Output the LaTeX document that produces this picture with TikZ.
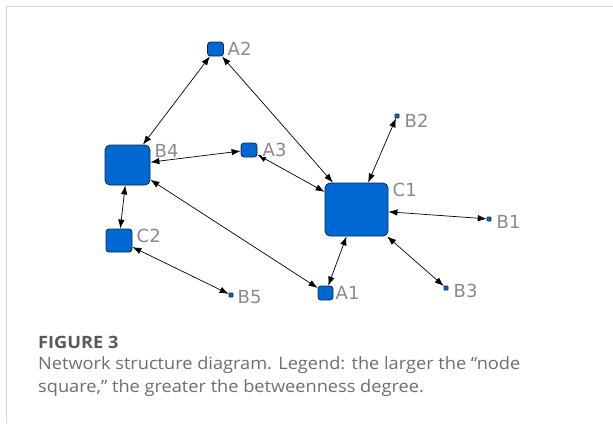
\documentclass[tikz,border=0pt]{standalone}
\usepackage{fontspec}
\setmainfont{Open Sans}[FakeStretch=1.07]
\newfontfamily\netfont{DejaVu Sans}
\usepackage{xcolor}
\usetikzlibrary{arrows.meta}
\definecolor{actorblue}{RGB}{0,104,210}
\definecolor{actoredge}{RGB}{16,36,76}
\definecolor{namegray}{RGB}{138,138,138}
\definecolor{figgray}{RGB}{88,89,91}
\definecolor{capgray}{RGB}{110,110,113}
\definecolor{framegray}{RGB}{212,212,212}
\tikzset{
  actor/.style={draw=actoredge, fill=actorblue, line width=0.8pt, rounded corners=3pt, inner sep=0pt},
  dot actor/.style={actor, rounded corners=0.5pt, minimum size=4pt, line width=0.6pt},
  actor name/.style={anchor=base west, inner sep=0.5pt, fill=white, text=namegray,
    font=\netfont\fontsize{18}{18}\selectfont},
  tie/.style={{Latex[length=9pt,width=6.5pt]}-{Latex[length=9pt,width=6.5pt]}, line width=0.7pt},
  caption text/.style={anchor=base west, inner sep=0pt, text=capgray, font=\fontsize{17}{20}\selectfont},
}

\begin{document}
\begin{tikzpicture}[x=1pt,y=-1pt]
  \useasboundingbox (0,0) rectangle (613,423);
  \draw[framegray, line width=1.5pt] (6.5,423) -- (6.5,6.5) -- (613,6.5);
  % actors
  \node[actor, minimum width=63pt, minimum height=53pt, rounded corners=5pt] (c1) at (356.5,209.5) {};
  \node[actor, minimum width=45pt, minimum height=40pt, rounded corners=5pt] (b4) at (127.5,165) {};
  \node[actor, minimum width=26pt, minimum height=23pt] (c2) at (119,240.5) {};
  \node[actor, minimum width=16pt, minimum height=14pt] (a2) at (215.5,49) {};
  \node[actor, minimum width=16pt, minimum height=14pt] (a3) at (249,150) {};
  \node[actor, minimum width=15pt, minimum height=14pt] (a1) at (325.5,293) {};
  \node[dot actor] (b2) at (397,116) {};
  \node[dot actor] (b1) at (489,219) {};
  \node[dot actor] (b3) at (446,288) {};
  \node[dot actor] (b5) at (231,295) {};
  % ties
  \draw[tie] (b4) -- (a2);
  \draw[tie] (a2) -- (c1);
  \draw[tie] (b4) -- (a3);
  \draw[tie] (a3) -- (c1);
  \draw[tie] (b4) -- (c2);
  \draw[tie] (b4) -- (a1);
  \draw[tie] (c2) -- (b5);
  \draw[tie] (c1) -- (a1);
  \draw[tie] (c1) -- (b2);
  \draw[tie] (c1) -- (b1);
  \draw[tie] (c1) -- (b3);
  % names
  \node[actor name] (a2 name) at (227,55) {A2};
  \node[actor name] (b4 name) at (154,157) {B4};
  \node[actor name] (a3 name) at (262,156) {A3};
  \node[actor name] (c1 name) at (392,196) {C1};
  \node[actor name] (b2 name) at (404,127) {B2};
  \node[actor name] (b1 name) at (496,228) {B1};
  \node[actor name] (b3 name) at (453,297) {B3};
  \node[actor name] (a1 name) at (335,299) {A1};
  \node[actor name] (c2 name) at (136,242) {C2};
  \node[actor name] (b5 name) at (237,303) {B5};
  % caption
  \node[anchor=base west, inner sep=0pt, text=figgray, font=\fontsize{17}{20}\selectfont\bfseries] (fig title) at (38,348) {FIGURE 3};
  \node[caption text] (fig line one) at (38,369) {Network structure diagram. Legend: the larger the “node};
  \node[caption text] (fig line two) at (38,392) {square,” the greater the betweenness degree.};
\end{tikzpicture}
\end{document}
